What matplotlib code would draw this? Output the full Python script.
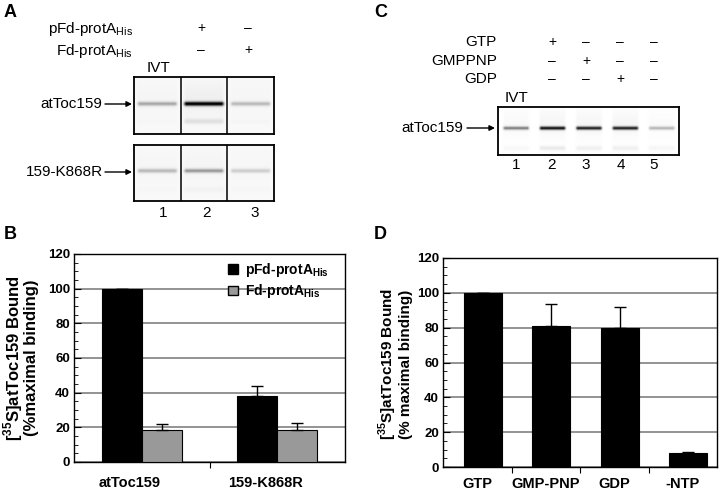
import numpy as np
import matplotlib.pyplot as plt
from matplotlib import font_manager
from matplotlib.patches import Patch
from matplotlib.ticker import MultipleLocator
from matplotlib.transforms import ScaledTranslation

# ---- data ----
# panel A gel: band strength per lane (0..1)
gelA_top = [0.38, 0.95, 0.32]
gelA_top_low = [0.02, 0.16, 0.03]
gelA_bottom = [0.32, 0.42, 0.24]
gelA_bottom_low = [0.02, 0.06, 0.02]
gelA_rows = [r'pFd-protA$_{\rm His}$', r'Fd-protA$_{\rm His}$']
gelA_signs = [['+', '–'], ['–', '+']]
gelA_lanes = ['1', '2', '3']

# panel C gel
gelC = [0.55, 0.9, 0.85, 0.85, 0.38]
gelC_low = [0.06, 0.16, 0.13, 0.13, 0.08]
gelC_rows = ['GTP', 'GMPPNP', 'GDP']
gelC_signs = [['+', '–', '–', '–'], ['–', '+', '–', '–'], ['–', '–', '+', '–']]
gelC_lanes = ['1', '2', '3', '4', '5']

# panel B bars
cats_b = ['atToc159', '159-K868R']
pfd_vals = [100, 38.0]
pfd_err = [0, 5.8]
fd_vals = [18.3, 18.4]
fd_err = [3.5, 4.2]

# panel D bars
cats_d = ['GTP', 'GMP-PNP', 'GDP', '-NTP']
d_vals = [100, 81.2, 79.8, 8.0]
d_err = [0, 12.4, 12.1, 0.6]

# ---- fonts ----
names = {f.name for f in font_manager.fontManager.ttflist}
NARROW = 'Liberation Sans Narrow' if 'Liberation Sans Narrow' in names else 'Liberation Sans'
plt.rcParams['font.family'] = 'Liberation Sans'
plt.rcParams['mathtext.fontset'] = 'custom'
plt.rcParams['mathtext.rm'] = 'Liberation Sans'
plt.rcParams['mathtext.bf'] = 'Liberation Sans:bold'
plt.rcParams['mathtext.sf'] = NARROW + ':bold'

W, H = 720, 491
fig = plt.figure(figsize=(7.2, 4.91), dpi=100)


def fx(x):
    return x / W


def fy(y):
    return 1 - y / H


def box(x0, y0, x1, y1):
    return [fx(x0), fy(y1), (x1 - x0) / W, (y1 - y0) / H]


def gel_image(levels, lows, band_y, low_y, gap, bg):
    yy = np.linspace(0, 1, 140)[:, None]
    xx = np.linspace(0, 1, 60)[None, :]
    lanes = []
    for lv, lo in zip(levels, lows):
        taper = np.clip(np.minimum(xx - gap, 1 - gap - xx) / 0.08, 0, 1)
        band = lv * np.exp(-((yy - band_y) / 0.04) ** 2)
        low = lo * np.exp(-((yy - low_y) / 0.05) ** 2)
        haze = 0.08 * lv * np.exp(-((yy - band_y + 0.1) / 0.3) ** 2)
        lanes.append(bg + (band + low + haze) * taper)
    return np.hstack(lanes)


def draw_gel(rect, img, n, seps):
    ax = fig.add_axes(rect)
    ax.imshow(img, cmap='Greys', vmin=0, vmax=1, aspect='auto',
              extent=(0, n, 1, 0), interpolation='bilinear')
    if seps:
        for i in range(1, n):
            ax.axvline(i, color='black', lw=1.1)
    ax.set_xticks([])
    ax.set_yticks([])
    for s in ax.spines.values():
        s.set_linewidth(1.3)
    return ax


def arrow(x0, x1, y):
    fig.add_artist(plt.Annotation('', xy=(fx(x1), fy(y)), xytext=(fx(x0), fy(y)),
                                  xycoords='figure fraction',
                                  arrowprops=dict(arrowstyle='-|>', color='black',
                                                  lw=1.0, mutation_scale=8,
                                                  shrinkA=0, shrinkB=0)))


gtxt = dict(fontsize=11)

# ---- panel A ----
draw_gel(box(134, 77, 274, 134), gel_image(gelA_top, gelA_top_low, 0.47, 0.78, 0.03, 0.05), 3, True)
draw_gel(box(134, 145, 274, 201), gel_image(gelA_bottom, gelA_bottom_low, 0.47, 0.8, 0.03, 0.05), 3, True)
for row, ybase, signs in zip(gelA_rows, [33, 55], gelA_signs):
    fig.text(fx(133), fy(ybase), row, ha='right', va='baseline', **gtxt)
    for xs, s in zip([201, 248], signs):
        fig.text(fx(xs), fy(ybase - 5), s, ha='center', va='center', fontsize=10)
fig.text(fx(158), fy(68), 'IVT', ha='center', va='center', **gtxt)
fig.text(fx(102), fy(104), 'atToc159', ha='right', va='center', **gtxt)
arrow(105, 132, 104)
fig.text(fx(103), fy(172), '159-K868R', ha='right', va='center', **gtxt)
arrow(105, 132, 172)
for xs, lab in zip([163, 207, 255], gelA_lanes):
    fig.text(fx(xs), fy(213), lab, ha='center', va='center', **gtxt)

# ---- panel C ----
draw_gel(box(497.7, 107, 679, 155), gel_image(gelC, gelC_low, 0.44, 0.86, 0.1, 0.0), 5, False)
for row, yc, signs in zip(gelC_rows, [42, 61, 79], gelC_signs):
    fig.text(fx(497), fy(yc), row, ha='right', va='center', **gtxt)
    for xs, s in zip([552, 586, 620, 654], signs):
        fig.text(fx(xs), fy(yc), s, ha='center', va='center', fontsize=10)
fig.text(fx(516), fy(98), 'IVT', ha='center', va='center', **gtxt)
fig.text(fx(463), fy(128), 'atToc159', ha='right', va='center', **gtxt)
arrow(467, 495, 128)
for xs, lab in zip([516, 552, 586, 621, 654], gelC_lanes):
    fig.text(fx(xs), fy(165), lab, ha='center', va='center', **gtxt)

# panel letters
for lab, (xl, yl) in zip('ABCD', [(4, 4), (4, 226), (374, 4), (374, 226)]):
    fig.text(fx(xl), fy(yl), lab, ha='left', va='top', fontsize=13, fontweight='bold')


def style_bar_axes(ax, cats, cat_pad):
    ax.set_ylim(0, 120)
    ax.set_xlim(-0.5, len(cats) - 0.5)
    ax.set_yticks(range(0, 121, 20))
    ax.yaxis.set_minor_locator(MultipleLocator(5))
    ax.yaxis.grid(True, color='#808080', lw=1.2)
    ax.set_axisbelow(True)
    ax.tick_params(axis='y', which='major', direction='in', length=5, pad=3,
                   labelsize=9.5)
    ax.tick_params(axis='y', which='minor', direction='in', length=3)
    ax.set_xticks(np.arange(len(cats) - 1) + 0.5)
    ax.set_xticklabels([])
    ax.tick_params(axis='x', which='major', direction='out', length=4)
    ax.set_xticks(np.arange(len(cats)), minor=True)
    ax.set_xticklabels(cats, minor=True)
    ax.tick_params(axis='x', which='minor', length=0, pad=cat_pad, labelsize=10.5)
    for lab in ax.get_xticklabels(minor=True) + ax.get_yticklabels():
        lab.set_fontweight('bold')
        lab.set_family(NARROW)
    for s in ax.spines.values():
        s.set_linewidth(1.0)


# ---- panel B ----
axb = fig.add_axes(box(74, 254, 345, 462))
x = np.arange(len(cats_b))
w = 0.295
axb.bar(x - w / 2, pfd_vals, w, color='black', edgecolor='black', lw=0.8, zorder=3)
axb.bar(x + w / 2, fd_vals, w, color='#999999', edgecolor='black', lw=0.8, zorder=3)
axb.errorbar(x - w / 2, pfd_vals, yerr=[np.zeros(len(x)), pfd_err], fmt='none',
             ecolor='black', elinewidth=1, capsize=4.5, zorder=4)
axb.errorbar(x + w / 2, fd_vals, yerr=[np.zeros(len(x)), fd_err], fmt='none',
             ecolor='black', elinewidth=1, capsize=4.5, zorder=4)
style_bar_axes(axb, cats_b, 10)
shift = ScaledTranslation(-0.12, 0, fig.dpi_scale_trans)
for lab in axb.get_xticklabels(minor=True):
    lab.set_transform(lab.get_transform() + shift)
handles = [Patch(facecolor='black', edgecolor='black'),
           Patch(facecolor='#999999', edgecolor='black')]
axb.legend(handles, [r'pFd-protA$_{\mathsf{His}}$', r'Fd-protA$_{\mathsf{His}}$'],
           loc='upper right', bbox_to_anchor=(0.965, 1.0), frameon=False,
           prop=dict(family=NARROW, weight='bold', size=10),
           handlelength=0.7, handleheight=0.7, handletextpad=0.5,
           labelspacing=0.25, borderaxespad=0.1)
fig.text(fx(13), fy(358), r'[$^{\bf 35}$S]atToc159 Bound', rotation=90,
         ha='center', va='center', fontsize=12, fontweight='bold')
fig.text(fx(32), fy(358), '(%maximal binding)', rotation=90,
         ha='center', va='center', fontsize=12, fontweight='bold')

# ---- panel D ----
axd = fig.add_axes(box(443, 258, 717, 467))
xd = np.arange(len(cats_d))
wd = 0.555
axd.bar(xd + 0.08, d_vals, wd, color='black', edgecolor='black', lw=0.8, zorder=3)
axd.errorbar(xd + 0.08, d_vals, yerr=[np.zeros(len(xd)), d_err], fmt='none',
             ecolor='black', elinewidth=1, capsize=4.5, zorder=4)
style_bar_axes(axd, cats_d, 7)
fig.text(fx(388), fy(364), r'[$^{\bf 35}$S]atToc159 Bound', rotation=90,
         ha='center', va='center', fontsize=11, fontweight='bold')
fig.text(fx(406), fy(364), '(% maximal binding)', rotation=90,
         ha='center', va='center', fontsize=11, fontweight='bold')

fig.savefig('out.png', dpi=100)
